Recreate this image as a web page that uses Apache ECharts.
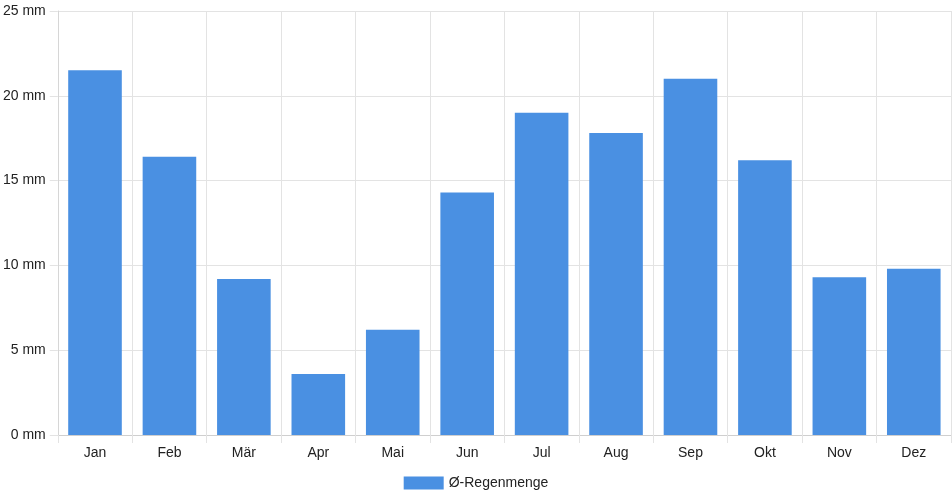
<!DOCTYPE html>
<html>
<head>
    <meta charset="utf-8">
    <script src="https://cdn.jsdelivr.net/npm/echarts@6/dist/echarts.min.js"></script>
    <style>
        html, body { margin: 0; padding: 0; background: #fff; }
        #chart { width: 952px; height: 500px; }
    </style>
</head>
<body>
<div id="chart"></div>
<script type="text/javascript">
    var months = ['Jan', 'Feb', 'Mär', 'Apr', 'Mai', 'Jun', 'Jul', 'Aug', 'Sep', 'Okt', 'Nov', 'Dez'];
    var rain = [21.5, 16.4, 9.2, 3.6, 6.2, 14.3, 19.0, 17.8, 21.0, 16.2, 9.3, 9.8];
    var seriesName = 'Ø-Regenmenge';
    var yTicks = [0, 5, 10, 15, 20, 25];

    var font = 'Liberation Sans, Arial, Helvetica, sans-serif';
    var gridColor = '#e3e3e3';

    var myChart = echarts.init(document.getElementById('chart'));
    myChart.setOption({
        animation: false,
        textStyle: { fontFamily: font },
        grid: { left: 57, right: 1, top: 11, bottom: 65, containLabel: false },
        legend: {
            bottom: 5,
            left: 'center',
            icon: 'rect',
            itemWidth: 40,
            itemHeight: 13,
            itemGap: 8,
            textStyle: { color: '#222', fontSize: 14, fontFamily: font },
            data: [seriesName]
        },
        xAxis: {
            type: 'category',
            data: months,
            boundaryGap: true,
            axisLine: { show: true, lineStyle: { color: '#cfcfcf', width: 1 } },
            axisTick: { show: true, length: 8, alignWithLabel: false, lineStyle: { color: gridColor } },
            axisLabel: { color: '#222', fontSize: 14, margin: 11, fontFamily: font },
            splitLine: { show: true, lineStyle: { color: gridColor, width: 1 } }
        },
        yAxis: {
            type: 'value',
            min: yTicks[0],
            max: yTicks[yTicks.length - 1],
            interval: 5,
            axisLine: { show: true, lineStyle: { color: '#d6d6d6', width: 1 } },
            axisTick: { show: true, length: 8, lineStyle: { color: gridColor } },
            axisLabel: {
                color: '#222', fontSize: 14, margin: 12, fontFamily: font,
                formatter: '{value} mm'
            },
            splitLine: { show: true, lineStyle: { color: gridColor, width: 1 } }
        },
        series: [
            {
                name: seriesName,
                type: 'bar',
                data: rain,
                barCategoryGap: '28%',
                itemStyle: { color: '#4a90e2' }
            }
        ]
    });
</script>
</body>
</html>
